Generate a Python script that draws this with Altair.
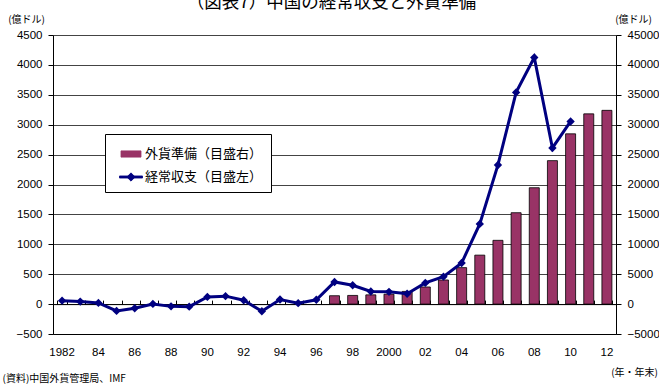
import altair as alt
import pandas as pd

# ---------------- data ----------------
years = list(range(1982, 2013))
current_account = [57, 42, 20, -114, -70, 3, -38, -43, 120, 133, 64, -119, 77, 16, 72,
                   370, 315, 211, 205, 174, 354, 459, 687, 1341, 2327, 3540, 4124, 2611, 3054,
                   None, None]
reserves = [None] * 15 + [1399, 1450, 1547, 1656, 2122, 2864, 4033, 6099, 8189, 10663,
                          15282, 19460, 23992, 28473, 31811, 32400]
tick_years = [1982, 1984, 1986, 1988, 1990, 1992, 1994, 1996, 1998, 2000, 2002, 2004,
              2006, 2008, 2010, 2012]
tick_labels = ["1982", "84", "86", "88", "90", "92", "94", "96", "98", "2000", "02", "04",
               "06", "08", "10", "12"]
left_ticks = list(range(-500, 4501, 500))
right_ticks = list(range(-5000, 45001, 5000))
series_names = ["外貨準備（目盛右）", "経常収支（目盛左）"]
series_colors = ["#993366", "#000080"]
title_text = "（図表7）中国の経常収支と外貨準備"
unit_text = "(億ドル)"
source_text = "(資料)中国外貨管理局、IMF"
xunit_text = "(年・年末)"

df = pd.DataFrame({"year": years, "ca": current_account, "res": reserves})
title_df = pd.DataFrame({"t": [title_text]})

JP = "Noto Sans CJK JP"
NUM = "Liberation Sans"

label_expr = ""
for y, l in zip(tick_years, tick_labels):
    label_expr += f"datum.value == {y} ? '{l}' : "
label_expr += "''"

W, H = 563, 299
zero_pos = H * 4500 / 5000

color_scale = alt.Scale(domain=series_names, range=series_colors)

rect_path = "M-0.87,-0.27H0.87V0.27H-0.87Z"
line_path = "M-1,-0.09H1V0.09H-1Z M0,-0.36L0.36,0L0,0.36L-0.36,0Z"
n0 = series_names[0]

legend = alt.Legend(
    orient="none", legendX=52, legendY=99, title=None,
    strokeColor="black", fillColor="white", padding=8,
    labelFont=JP, labelFontSize=13, labelColor="black", labelOffset=2,
    symbolSize=529, symbolOffset=6, rowPadding=4, labelLimit=300,
    symbolType={"expr": f"datum.value === '{n0}' ? '{rect_path}' : '{line_path}'"},
    symbolFillColor={"expr": f"datum.value === '{n0}' ? '{series_colors[0]}' : '{series_colors[1]}'"},
    symbolStrokeColor={"expr": f"datum.value === '{n0}' ? 'black' : '{series_colors[1]}'"},
    symbolStrokeWidth=0.8, symbolOpacity=1,
)

x_bottom = alt.X(
    "year:O",
    scale=alt.Scale(paddingInner=0.44, paddingOuter=0.22),
    axis=alt.Axis(
        values=tick_years, labelExpr=label_expr, labelAngle=0, labelFont=NUM,
        labelFontSize=11.5, labelColor="black", ticks=False, tickSize=0, labelPadding=12,
        domainColor="black", domainWidth=1, grid=False,
        title=xunit_text, titleFont=JP, titleFontSize=10, titleFontWeight="normal",
        titleAngle=0, titleX=581, titleY=38, titleAlign="center", titleBaseline="middle",
        titleColor="black",
    ),
)

x_zero = alt.X(
    "year:O",
    scale=alt.Scale(paddingInner=0.44, paddingOuter=0.22),
    axis=alt.Axis(
        orient="top", offset=-zero_pos, labels=False, ticks=True, tickBand="extent",
        tickSize=4, tickColor="black", domainColor="black", domainWidth=1, grid=False,
        title=source_text, titleFont=JP, titleFontSize=10, titleFontWeight="normal",
        titleAngle=0, titleX=-51, titleY=74, titleAlign="left", titleBaseline="middle",
        titleColor="black",
    ),
)

bars = alt.Chart(df).transform_calculate(series=f"'{series_names[0]}'").mark_bar(
    stroke="black", strokeWidth=0.8, size=10
).encode(
    x=x_bottom,
    y=alt.Y(
        "res:Q",
        scale=alt.Scale(domain=[-5000, 45000], nice=False, zero=False),
        axis=alt.Axis(
            orient="right", values=right_ticks, format="d", labelFont=NUM,
            labelFontSize=11.5, labelColor="black", tickSize=5, tickColor="black",
            domainColor="black", labelPadding=6, grid=False,
            title=unit_text, titleFont=JP, titleFontSize=10, titleFontWeight="normal",
            titleAngle=0, titleX=17, titleY=-16, titleAlign="center",
            titleBaseline="middle", titleColor="black",
        ),
    ),
    color=alt.Color("series:N", scale=color_scale, legend=legend),
)

line = alt.Chart(df).transform_calculate(series=f"'{series_names[1]}'").mark_line(
    strokeWidth=3,
    point=alt.OverlayMarkDef(shape="diamond", size=70, filled=True, opacity=1),
).encode(
    x=x_zero,
    y=alt.Y(
        "ca:Q",
        scale=alt.Scale(domain=[-500, 4500], nice=False, zero=False),
        axis=alt.Axis(
            orient="left", values=left_ticks, format="d", labelFont=NUM,
            labelFontSize=11.5, labelColor="black", tickSize=5, tickColor="black",
            domainColor="black", labelPadding=6, grid=True, gridColor="#444444",
            gridWidth=1, gridOpacity=1,
            title=unit_text, titleFont=JP, titleFontSize=10, titleFontWeight="normal",
            titleAngle=0, titleX=-27, titleY=-16, titleAlign="center",
            titleBaseline="middle", titleColor="black",
        ),
    ),
    color=alt.Color("series:N", scale=color_scale, legend=legend),
)

title_mark = alt.Chart(title_df).mark_text(
    font=JP, fontSize=17.5, color="black", align="center", baseline="alphabetic"
).encode(
    text="t:N",
    x=alt.value(W / 2 - 3),
    y=alt.value(-27),
)

chart = alt.layer(bars, line, title_mark).resolve_scale(y="independent").resolve_axis(
    x="independent", y="independent"
).properties(
    width=W, height=H,
    autosize=alt.AutoSizeParams(type="none"),
    padding={"left": 53, "top": 35, "right": 43, "bottom": 52},
).configure_view(stroke=None).configure(background="white")

chart.save("out.html", embed_options={"renderer": "svg", "actions": False})
